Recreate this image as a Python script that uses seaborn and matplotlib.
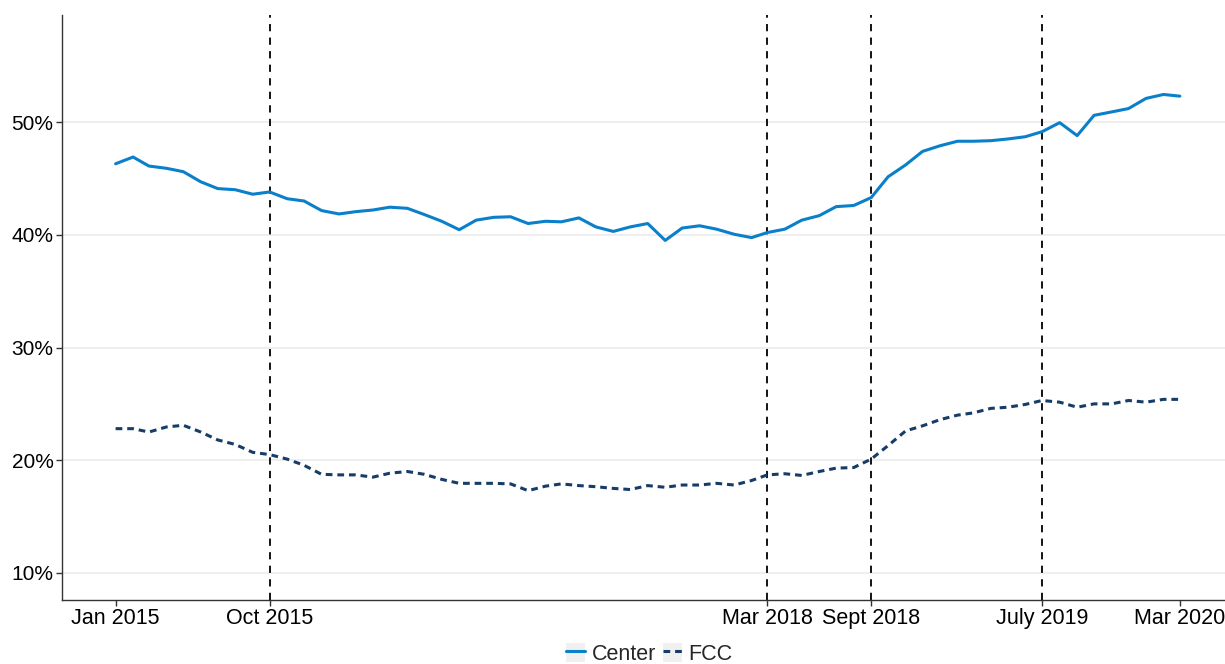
import matplotlib
matplotlib.use("Agg")
import matplotlib.pyplot as plt
import matplotlib.ticker as mticker
from matplotlib.lines import Line2D
from matplotlib.patches import Rectangle
from matplotlib.legend_handler import HandlerLine2D
import seaborn as sns
import pandas as pd

# monthly share, Jan 2015 .. Mar 2020
center = [46.3, 46.9, 46.1, 45.9, 45.6, 44.7, 44.1, 44.0, 43.6, 43.8,
          43.2, 43.0, 42.15, 41.85, 42.05, 42.2, 42.45, 42.35, 41.8, 41.2,
          40.45, 41.3, 41.55, 41.6, 41.0, 41.2, 41.15, 41.5, 40.7, 40.3,
          40.7, 41.0, 39.5, 40.6, 40.8, 40.5, 40.05, 39.75, 40.2, 40.5,
          41.3, 41.7, 42.5, 42.6, 43.3, 45.15, 46.2, 47.4, 47.9, 48.3,
          48.3, 48.35, 48.5, 48.7, 49.15, 49.95, 48.8, 50.6, 50.9, 51.2,
          52.1, 52.45, 52.3]
fcc = [22.8, 22.8, 22.5, 22.95, 23.1, 22.5, 21.8, 21.4, 20.7, 20.5,
       20.1, 19.55, 18.75, 18.7, 18.7, 18.5, 18.85, 19.0, 18.75, 18.3,
       17.95, 17.95, 17.95, 17.9, 17.3, 17.7, 17.9, 17.75, 17.65, 17.5,
       17.4, 17.75, 17.6, 17.8, 17.8, 17.95, 17.8, 18.2, 18.7, 18.8,
       18.65, 19.0, 19.3, 19.35, 20.1, 21.3, 22.6, 23.05, 23.6, 24.0,
       24.2, 24.6, 24.7, 24.95, 25.3, 25.15, 24.7, 25.0, 25.0, 25.3,
       25.15, 25.4, 25.4]
months = pd.date_range("2015-01-01", periods=len(center), freq="MS")

event_dates = ["2015-10-01", "2018-03-01", "2018-09-01", "2019-07-01"]
tick_dates = ["2015-01-01", "2015-10-01", "2018-03-01", "2018-09-01", "2019-07-01", "2020-03-01"]
tick_labels = ["Jan 2015", "Oct 2015", "Mar 2018", "Sept 2018", "July 2019", "Mar 2020"]

df = pd.DataFrame({"month": list(months) * 2,
                   "share": center + fcc,
                   "source": ["Center"] * len(center) + ["FCC"] * len(fcc)})

blue = "#0a7fca"
navy = "#163d68"
key_bg = "#f0f0f0"


class KeyHandler(HandlerLine2D):
    # ggplot-style legend key: grey box behind the line sample
    def create_artists(self, legend, orig_handle, xdescent, ydescent,
                       width, height, fontsize, trans):
        bg = Rectangle((-xdescent, -ydescent), width, height,
                       facecolor=key_bg, edgecolor="none", transform=trans)
        arts = super().create_artists(legend, orig_handle, xdescent, ydescent,
                                      width, height, fontsize, trans)
        return [bg] + list(arts)


sns.set_theme(style="white")
plt.rcParams["font.family"] = ["Liberation Sans", "DejaVu Sans"]

fig = plt.figure(figsize=(12.25, 6.64), dpi=100)
ax = fig.add_axes([0.0506, 0.0964, 0.9494, 0.881])

sns.lineplot(data=df, x="month", y="share", hue="source", style="source",
             palette={"Center": blue, "FCC": navy},
             dashes={"Center": "", "FCC": (2.2, 1.6)},
             linewidth=2.2, ax=ax, legend=False)

for d in event_dates:
    ax.axvline(pd.Timestamp(d), color="black", linestyle=(0, (4, 3.5)), linewidth=1.3, zorder=1)

ax.set_ylim(7.6, 59.5)
ax.set_xlim(pd.Timestamp("2014-09-28"), pd.Timestamp("2020-05-20"))
ax.set_yticks([10, 20, 30, 40, 50])
ax.yaxis.set_major_formatter(mticker.FuncFormatter(lambda v, p: f"{v:.0f}%"))
ax.set_xticks([pd.Timestamp(d) for d in tick_dates])
ax.set_xticklabels(tick_labels)
ax.grid(axis="y", color="#ebebeb", linewidth=1.2)
ax.set_axisbelow(True)
ax.set_xlabel("")
ax.set_ylabel("")
for s in ["top", "right"]:
    ax.spines[s].set_visible(False)
for s in ["left", "bottom"]:
    ax.spines[s].set_color("#333333")
    ax.spines[s].set_linewidth(1.0)
ax.tick_params(axis="both", which="major", length=4, width=1,
               color="#333333", labelcolor="black", bottom=True, left=True, pad=2)
ax.tick_params(axis="x", labelsize=15.5)
ax.tick_params(axis="y", labelsize=15)

handles = [Line2D([], [], color=blue, linewidth=2.2),
           Line2D([], [], color=navy, linewidth=2.2, dashes=(2.2, 1.6))]
fig.legend(handles, ["Center", "FCC"], loc="lower center", ncol=2, frameon=False,
           fontsize=15.5, handlelength=0.9, handleheight=1.0, handletextpad=0.3,
           columnspacing=0.3, bbox_to_anchor=(0.53, -0.024), borderpad=0.2,
           handler_map={Line2D: KeyHandler()})

fig.savefig("out.png", dpi=100)
